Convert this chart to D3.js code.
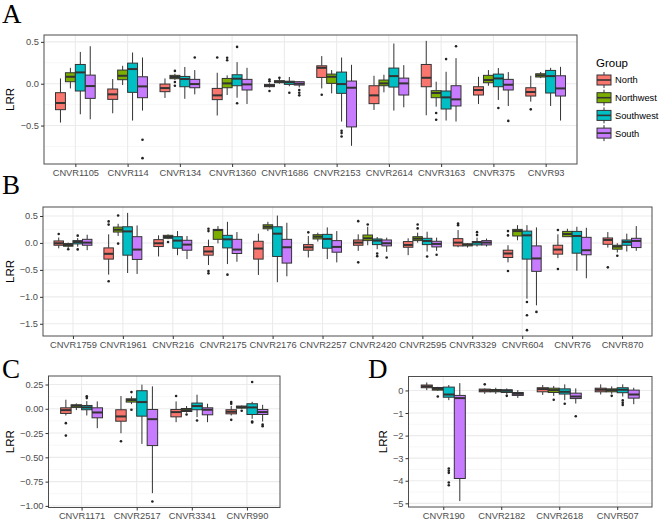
<!DOCTYPE html>
<html><head><meta charset="utf-8">
<script src="https://cdn.jsdelivr.net/npm/d3@7"></script>
<style>body{margin:0;background:#fff}</style>
</head><body><svg id="c" width="660" height="520"></svg>
<script>
// Each entry: [lowerWhisker, q1, median, q3, upperWhisker, ...outliers]
const groups = ["North","Northwest","Southwest","South"];
const groupColors = ["#F8766D","#7CAE00","#00BFC4","#C77CFF"];

const catsA = ["CNVR1105","CNVR114","CNVR134","CNVR1360","CNVR1686","CNVR2153","CNVR2614","CNVR3163","CNVR375","CNVR93"];
const northA = [
 [-0.464,-0.31,-0.23,-0.107,0.063],
 [-0.353,-0.187,-0.127,-0.063,0.056],
 [-0.17,-0.095,-0.052,-0.004,0.063],
 [-0.38,-0.19,-0.139,-0.056,0.131, 0.313],
 [-0.045,-0.035,-0.022,-0.008,0.005, 0.05,0.03,-0.087],
 [-0.056,0.075,0.19,0.214,0.33, -0.131],
 [-0.313,-0.238,-0.139,-0.024,0.095],
 [-0.377,-0.036,0.071,0.23,0.512],
 [-0.242,-0.135,-0.075,-0.036,0.083],
 [-0.214,-0.147,-0.099,-0.048,0.095, -0.306]
];
const northwestA = [
 [-0.056,0.024,0.083,0.131,0.19],
 [-0.016,0.048,0.095,0.163,0.214],
 [0.045,0.06,0.08,0.1,0.12, 0.153,0.02,-0.024],
 [-0.135,-0.048,0.004,0.063,0.1, 0.31,0.28],
 [0.0,0.012,0.024,0.036,0.06, 0.07],
 [-0.115,0.004,0.083,0.115,0.163],
 [-0.103,-0.024,0.004,0.044,0.107],
 [-0.274,-0.167,-0.111,-0.083,0.024, -0.35,-0.43],
 [-0.024,0.012,0.044,0.1,0.163],
 [0.067,0.08,0.1,0.119,0.14]
];
const southwestA = [
 [-0.365,-0.087,0.135,0.23,0.38],
 [-0.44,-0.103,0.175,0.246,0.373],
 [-0.18,-0.036,0.056,0.087,0.2],
 [-0.167,-0.024,0.06,0.107,0.258, 0.44,-0.234],
 [-0.03,-0.008,0.018,0.03,0.08, -0.107],
 [-0.452,-0.115,-0.004,0.139,0.313, -0.563,-0.59,-0.63],
 [-0.321,-0.04,0.091,0.187,0.48],
 [-0.44,-0.302,-0.163,-0.087,0.143, 0.294],
 [-0.194,-0.036,0.063,0.115,0.187, -0.29],
 [-0.266,-0.111,0.091,0.159,0.19]
];
const southA = [
 [-0.425,-0.175,-0.028,0.103,0.448],
 [-0.321,-0.167,-0.032,0.083,0.313, -0.67,-0.889],
 [-0.127,-0.048,-0.004,0.052,0.163, 0.313],
 [-0.242,-0.075,-0.008,0.052,0.19],
 [-0.045,-0.016,0.0,0.024,0.03, -0.075,-0.107,-0.139],
 [-0.742,-0.516,-0.048,0.032,0.226],
 [-0.282,-0.135,0.004,0.067,0.222],
 [-0.452,-0.266,-0.187,-0.024,0.306, 0.448],
 [-0.266,-0.075,-0.012,0.052,0.139, -0.444],
 [-0.44,-0.147,-0.056,0.095,0.202]
];

const catsB = ["CNVR1759","CNVR1961","CNVR216","CNVR2175","CNVR2176","CNVR2257","CNVR2420","CNVR2595","CNVR3329","CNVR604","CNVR76","CNVR870"];
const northB = [
 [-0.1,-0.043,-0.006,0.037,0.1, 0.165],
 [-0.588,-0.3,-0.202,-0.092,0.16, 0.4,0.34,-0.71],
 [-0.251,-0.067,-0.006,0.061,0.141],
 [-0.41,-0.227,-0.159,-0.067,0.061, 0.263,0.22,-0.52,-0.564],
 [-0.594,-0.3,-0.104,0.031,0.172],
 [-0.27,-0.135,-0.08,-0.031,0.129, 0.196],
 [-0.147,-0.043,0.006,0.055,0.16, 0.404,-0.36],
 [-0.227,-0.08,-0.037,0.025,0.086],
 [-0.08,-0.055,0.006,0.08,0.239, 0.36,0.33],
 [-0.361,-0.27,-0.196,-0.135,-0.043, 0.22,0.14,-0.52],
 [-0.282,-0.208,-0.123,-0.043,0.16, 0.239,-0.484],
 [-0.086,-0.025,0.055,0.092,0.202, -0.453]
];
const northwestB = [
 [-0.1,-0.061,-0.037,-0.012,0.006, -0.116],
 [0.129,0.202,0.245,0.294,0.355, 0.508,-0.012],
 [0.07,0.086,0.11,0.141,0.16, 0.018],
 [-0.006,0.067,0.239,0.251,0.312],
 [0.22,0.263,0.3,0.337,0.392],
 [0.025,0.074,0.116,0.153,0.19],
 [-0.043,0.043,0.086,0.147,0.3, 0.343],
 [0.006,0.043,0.08,0.116,0.19, 0.343,0.27],
 [-0.086,-0.055,-0.03,-0.018,-0.006],
 [0.049,0.129,0.22,0.251,0.33],
 [0.11,0.116,0.165,0.214,0.263],
 [-0.178,-0.116,-0.067,-0.043,-0.006, -0.239]
];
const southwestB = [
 [-0.07,-0.018,0.018,0.043,0.09, 0.135,-0.12],
 [-0.558,-0.227,0.214,0.3,0.558],
 [-0.227,-0.098,0.043,0.116,0.22],
 [-0.392,-0.092,0.067,0.141,0.392, -0.588],
 [-0.729,-0.251,0.172,0.3,0.508],
 [-0.3,-0.098,0.074,0.159,0.288],
 [-0.116,-0.031,0.043,0.074,0.11, -0.196,-0.245],
 [-0.159,-0.031,0.037,0.086,0.208, -0.251],
 [-0.067,-0.037,0.01,0.025,0.098, 0.2,0.147],
 [-1.035,-0.3,0.141,0.22,0.33, -1.097,-1.342,-1.618],
 [-0.515,-0.19,0.129,0.214,0.3],
 [-0.159,-0.043,0.018,0.055,0.172]
];
const southB = [
 [-0.135,-0.043,0.006,0.067,0.153],
 [-0.576,-0.306,-0.123,0.116,0.325],
 [-0.3,-0.135,-0.031,0.049,0.129],
 [-0.349,-0.196,-0.123,0.067,0.202],
 [-0.619,-0.374,-0.08,0.067,0.374],
 [-0.361,-0.172,-0.074,0.043,0.22],
 [-0.165,-0.055,-0.006,0.055,0.098, -0.27],
 [-0.147,-0.074,-0.018,0.031,0.098, -0.22],
 [-0.067,-0.037,0.006,0.043,0.08],
 [-1.158,-0.527,-0.288,-0.055,0.288, -1.28],
 [-0.656,-0.22,-0.135,0.104,0.282],
 [-0.147,-0.086,0.037,0.086,0.312]
];

const catsC = ["CNVR1171","CNVR2517","CNVR3341","CNVR990"];
const northC = [
 [-0.069,-0.048,-0.014,0.01,0.093, -0.148,-0.276],
 [-0.252,-0.128,-0.079,-0.01,0.131, -0.334],
 [-0.138,-0.083,-0.034,-0.007,0.076, 0.131],
 [-0.069,-0.052,-0.031,-0.01,0.03, 0.069,0.052,-0.114]
];
const northwestC = [
 [-0.014,0.014,0.031,0.041,0.055],
 [0.048,0.069,0.09,0.103,0.128, 0.172,-0.01],
 [-0.041,-0.028,-0.014,0.003,0.028, -0.059],
 [0.0,0.007,0.017,0.028,0.034, -0.021]
];
const southwestC = [
 [-0.069,-0.01,0.014,0.034,0.079, 0.128,0.11],
 [-0.362,-0.076,0.069,0.186,0.248],
 [-0.086,-0.01,0.028,0.059,0.145, -0.121],
 [-0.103,-0.059,0.014,0.052,0.072, 0.276,-0.131,-0.141]
];
const southC = [
 [-0.2,-0.093,-0.038,0.01,0.076],
 [-0.869,-0.379,-0.107,-0.007,0.231, -0.955],
 [-0.138,-0.062,-0.01,0.01,0.052],
 [-0.131,-0.059,-0.034,-0.007,0.041, -0.162,-0.179]
];

const catsD = ["CNVR190","CNVR2182","CNVR2618","CNVR507"];
const northD = [
 [0.015,0.12,0.18,0.24,0.355],
 [-0.15,-0.06,0.0,0.06,0.09, 0.27],
 [-0.2,-0.06,0.06,0.12,0.24],
 [-0.18,-0.06,0.03,0.1,0.27]
];
const northwestD = [
 [-0.015,0.015,0.07,0.13,0.16, -0.27],
 [-0.15,-0.06,-0.01,0.04,0.12],
 [-0.24,-0.09,0.015,0.1,0.2, -0.41],
 [-0.15,-0.06,0.015,0.07,0.18, -0.24]
];
const southwestD = [
 [-0.43,-0.3,-0.18,0.148,0.24, -3.46,-3.56,-3.65,-4.08,-4.2],
 [-0.18,-0.09,-0.015,0.03,0.09, -0.24],
 [-0.43,-0.16,-0.06,0.07,0.27, -0.59],
 [-0.27,-0.1,0.03,0.12,0.27, -0.44,-0.55,-0.64]
];
const southD = [
 [-4.9,-3.9,-0.34,-0.22,0.325],
 [-0.33,-0.22,-0.15,-0.09,0.015],
 [-0.58,-0.36,-0.27,-0.12,0.09, -1.14],
 [-0.61,-0.34,-0.18,0.015,0.12]
];

const ticksA = [-0.5,0,0.5];
const ticksB = [-1.5,-1,-0.5,0,0.5];
const ticksC = [-1,-0.75,-0.5,-0.25,0,0.25];
const ticksD = [-5,-4,-3,-2,-1,0];

const svg = d3.select("#c");
svg.append("rect").attr("width",660).attr("height",520).attr("fill","#fff");
const FONT = "'Liberation Sans', Arial, sans-serif";

function panel(p){
  const x = d3.scalePoint().domain(p.cats).range([p.x0,p.x1]).padding(0.6);
  const all = p.series.flat(2);
  const mn = d3.min(all), mx = d3.max(all), ex = (mx-mn)*0.05;
  const y = d3.scaleLinear().domain([mn-ex, mx+ex]).range([p.y1,p.y0]);
  const g = svg.append("g");
  const majors = p.ticks, st = majors[1]-majors[0];
  const minors = [];
  for (let i=-1;i<majors.length;i++){
    const v = majors[0]+(i+0.5)*st;
    if (v>=y.domain()[0] && v<=y.domain()[1]) minors.push(v);
  }
  g.selectAll(".mn").data(minors).join("line")
    .attr("x1",p.x0).attr("x2",p.x1).attr("y1",d=>y(d)).attr("y2",d=>y(d))
    .attr("stroke","#f2f2f2").attr("stroke-width",0.6);
  g.selectAll(".mj").data(majors).join("line")
    .attr("x1",p.x0).attr("x2",p.x1).attr("y1",d=>y(d)).attr("y2",d=>y(d))
    .attr("stroke","#ebebeb").attr("stroke-width",1.1);
  g.selectAll(".vx").data(p.cats).join("line")
    .attr("x1",d=>x(d)).attr("x2",d=>x(d)).attr("y1",p.y0).attr("y2",p.y1)
    .attr("stroke","#ebebeb").attr("stroke-width",1.1);

  const slot = x.step()*0.19;
  p.series.forEach((ser,gi)=>{
    ser.forEach((s,ci)=>{
      const cx = x(p.cats[ci]) + (gi-1.5)*slot;
      const bg = g.append("g");
      bg.append("line").attr("x1",cx).attr("x2",cx).attr("y1",y(s[4])).attr("y2",y(s[3]))
        .attr("stroke","#333").attr("stroke-width",1);
      bg.append("line").attr("x1",cx).attr("x2",cx).attr("y1",y(s[1])).attr("y2",y(s[0]))
        .attr("stroke","#333").attr("stroke-width",1);
      bg.append("rect").attr("x",cx-slot/2).attr("width",slot)
        .attr("y",y(s[3])).attr("height",Math.max(0.5,y(s[1])-y(s[3])))
        .attr("fill",groupColors[gi]).attr("stroke","#333").attr("stroke-width",1);
      bg.append("line").attr("x1",cx-slot/2).attr("x2",cx+slot/2).attr("y1",y(s[2])).attr("y2",y(s[2]))
        .attr("stroke","#333").attr("stroke-width",2);
      bg.selectAll("circle").data(s.slice(5)).join("circle")
        .attr("cx",cx).attr("cy",d=>y(d)).attr("r",1.3).attr("fill","#222");
    });
  });

  g.append("rect").attr("x",p.x0).attr("y",p.y0).attr("width",p.x1-p.x0).attr("height",p.y1-p.y0)
    .attr("fill","none").attr("stroke","#4d4d4d").attr("stroke-width",1);

  const ya = g.append("g").attr("transform",`translate(${p.x0},0)`)
    .call(d3.axisLeft(y).tickValues(majors).tickSize(3).tickPadding(2).tickFormat(p.fmt));
  const xa = g.append("g").attr("transform",`translate(0,${p.y1})`)
    .call(d3.axisBottom(x).tickSize(3).tickPadding(2));
  [ya,xa].forEach(a=>{
    a.select(".domain").remove();
    a.selectAll("line").attr("stroke","#333");
    a.selectAll("text").attr("fill","#4d4d4d").style("font-size","9.3px").style("font-family",FONT);
  });

  g.append("text").attr("transform",`translate(${p.titleX},${(p.y0+p.y1)/2}) rotate(-90)`)
    .attr("text-anchor","middle").style("font-size","11.5px").style("font-family",FONT)
    .attr("fill","#000").text("LRR");
  g.append("text").attr("x",p.lx).attr("y",p.ly).style("font-size","27px")
    .style("font-family","'Liberation Serif', 'Times New Roman', serif").attr("fill","#000").text(p.letter);
}

panel({cats:catsA, series:[northA,northwestA,southwestA,southA], x0:44, x1:577, y0:35, y1:164,
  ticks:ticksA, fmt:d3.format(".1f"), titleX:14, letter:"A", lx:2, ly:23});
panel({cats:catsB, series:[northB,northwestB,southwestB,southB], x0:43, x1:652, y0:207, y1:336,
  ticks:ticksB, fmt:d3.format(".1f"), titleX:14, letter:"B", lx:2, ly:194});
panel({cats:catsC, series:[northC,northwestC,southwestC,southC], x0:48.5, x1:280, y0:376, y1:507.5,
  ticks:ticksC, fmt:d3.format(".2f"), titleX:14, letter:"C", lx:2, ly:378});
panel({cats:catsD, series:[northD,northwestD,southwestD,southD], x0:408.5, x1:652, y0:376.5, y1:507,
  ticks:ticksD, fmt:d3.format("d"), titleX:387, letter:"D", lx:368, ly:378});

// legend
const lg = svg.append("g");
lg.append("text").attr("x",596).attr("y",67).style("font-size","11.5px").style("font-family",FONT).text("Group");
groups.forEach((gname,i)=>{
  const cy = 80 + i*17.7, kx = 597, kw = 14;
  lg.append("line").attr("x1",kx+kw/2).attr("x2",kx+kw/2).attr("y1",cy-8).attr("y2",cy+8).attr("stroke","#333");
  lg.append("rect").attr("x",kx).attr("y",cy-5).attr("width",kw).attr("height",10)
    .attr("fill",groupColors[i]).attr("stroke","#333").attr("stroke-width",1);
  lg.append("line").attr("x1",kx).attr("x2",kx+kw).attr("y1",cy).attr("y2",cy).attr("stroke","#333").attr("stroke-width",1.6);
  lg.append("text").attr("x",615).attr("y",cy+3.4).style("font-size","9.3px").style("font-family",FONT).text(gname);
});
</script></body></html>
